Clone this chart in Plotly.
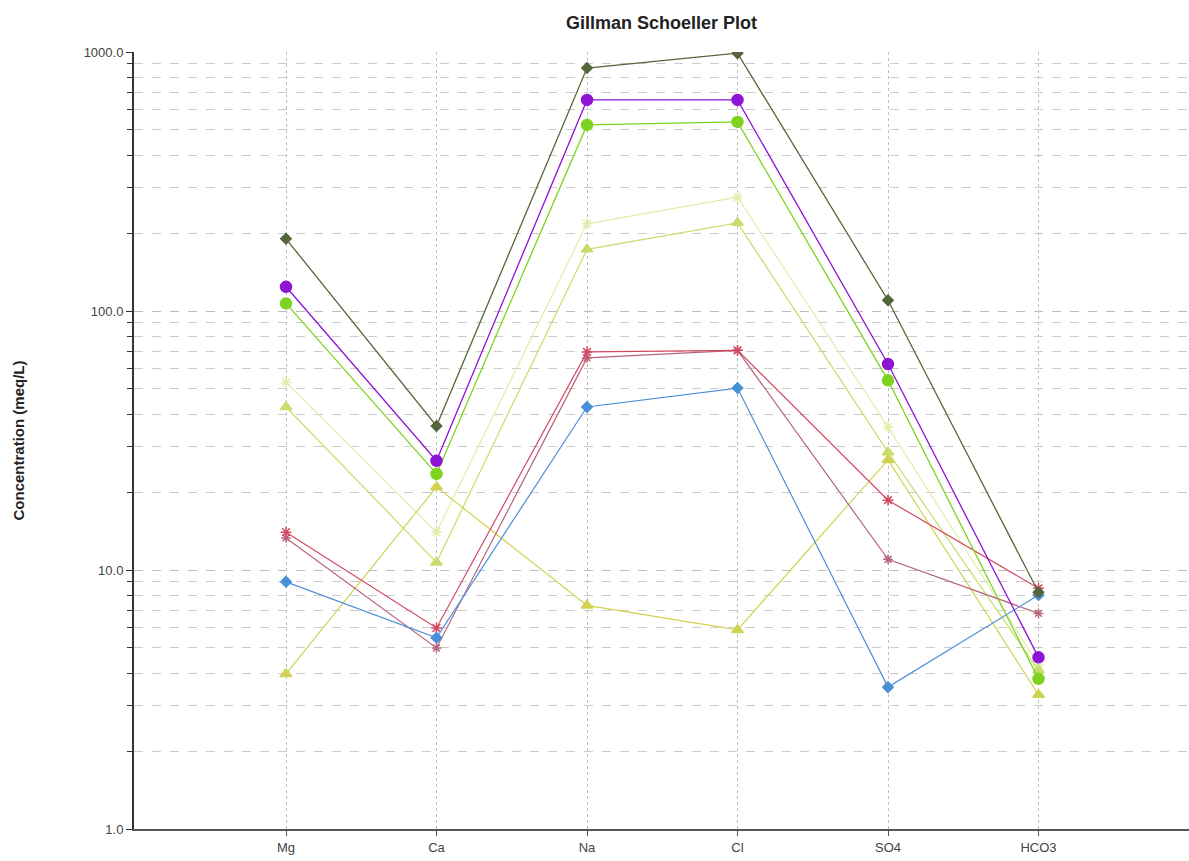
import plotly.graph_objects as go

ions = ["Mg", "Ca", "Na", "Cl", "SO4", "HCO3"]

s_olive = [190, 36, 867, 990, 110, 8.2]
s_purple = [124, 26.4, 653, 653, 62.4, 4.6]
s_green = [107, 23.5, 523, 537, 54, 3.8]
s_pale = [53, 14, 217, 275, 35.7, 4.3]
s_ygreen = [42.6, 10.7, 173, 219, 28.5, 4.1]
s_yellow = [3.97, 20.9, 7.3, 5.87, 26.6, 3.3]
s_red = [14.0, 5.97, 69.5, 70.5, 18.6, 8.5]
s_rose = [13.3, 5.0, 65.9, 70.5, 11.0, 6.8]
s_blue = [9.0, 5.47, 42.6, 50.4, 3.53, 8.0]

y_tickvals = [1, 10, 100, 1000]
y_ticktext = ["1.0", "10.0", "100.0", "1000.0"]

series = [
    (s_pale, "#e2ecaa", "asterisk-open", 9, 1.2),
    (s_ygreen, "#c6de6c", "triangle-up", 10, 1.2),
    (s_yellow, "#d2d250", "triangle-up", 10, 1.2),
    (s_rose, "#b86478", "asterisk-open", 8, 1.2),
    (s_red, "#d24a62", "asterisk-open", 9, 1.2),
    (s_blue, "#4a90d6", "diamond", 8, 1.2),
    (s_green, "#7ed321", "circle", 11, 1.3),
    (s_purple, "#8e14d6", "circle", 11, 1.3),
    (s_olive, "#55663a", "diamond", 8, 1.3),
]

xi = list(range(len(ions)))
fig = go.Figure()
for vals, col, sym, sz, lw in series:
    fig.add_trace(go.Scatter(
        x=xi, y=vals, mode="lines+markers",
        line=dict(color=col, width=lw),
        marker=dict(color=col, symbol=sym, size=sz, line=dict(color=col, width=1.5)),
        showlegend=False,
    ))

minor_vals = [m * 10 ** d for d in range(3) for m in range(2, 10)]

fig.update_layout(
    width=1189, height=861,
    margin=dict(l=134, r=0, t=52, b=32),
    paper_bgcolor="white", plot_bgcolor="white",
    title=dict(text="<b>Gillman Schoeller Plot</b>", x=0.5, xref="paper", xanchor="center",
               y=1 - 23 / 861, yanchor="middle",
               font=dict(family="Liberation Sans, Arial", size=18, color="#222")),
    font=dict(family="Liberation Sans, Arial", size=12, color="#444"),
)
fig.update_xaxes(
    range=[-1.01, 6.0], tickmode="array", tickvals=xi, ticktext=ions,
    showgrid=True, gridcolor="#bdbdbd", gridwidth=1, griddash="dot",
    showline=True, linecolor="#555", linewidth=2,
    ticks="outside", ticklen=5, tickcolor="#555",
    zeroline=False, tickfont=dict(size=13, color="#444"),
)
fig.update_yaxes(
    type="log", range=[0, 3],
    tickmode="array", tickvals=y_tickvals, ticktext=y_ticktext,
    showgrid=True, gridcolor="#bdbdbd", gridwidth=1, griddash="dash",
    showline=True, linecolor="#333", linewidth=2,
    ticks="outside", ticklen=6, tickcolor="#333",
    minor=dict(tickmode="array", tickvals=minor_vals, ticks="outside", ticklen=5,
               tickcolor="#333", showgrid=True, gridcolor="#cccccc", griddash="dash", gridwidth=1),
    zeroline=False, tickfont=dict(size=13, color="#444"),
    title=dict(text="<b>Concentration (meq/L)</b>", font=dict(size=15, color="#222"), standoff=55),
)

fig.write_html("out.html")
